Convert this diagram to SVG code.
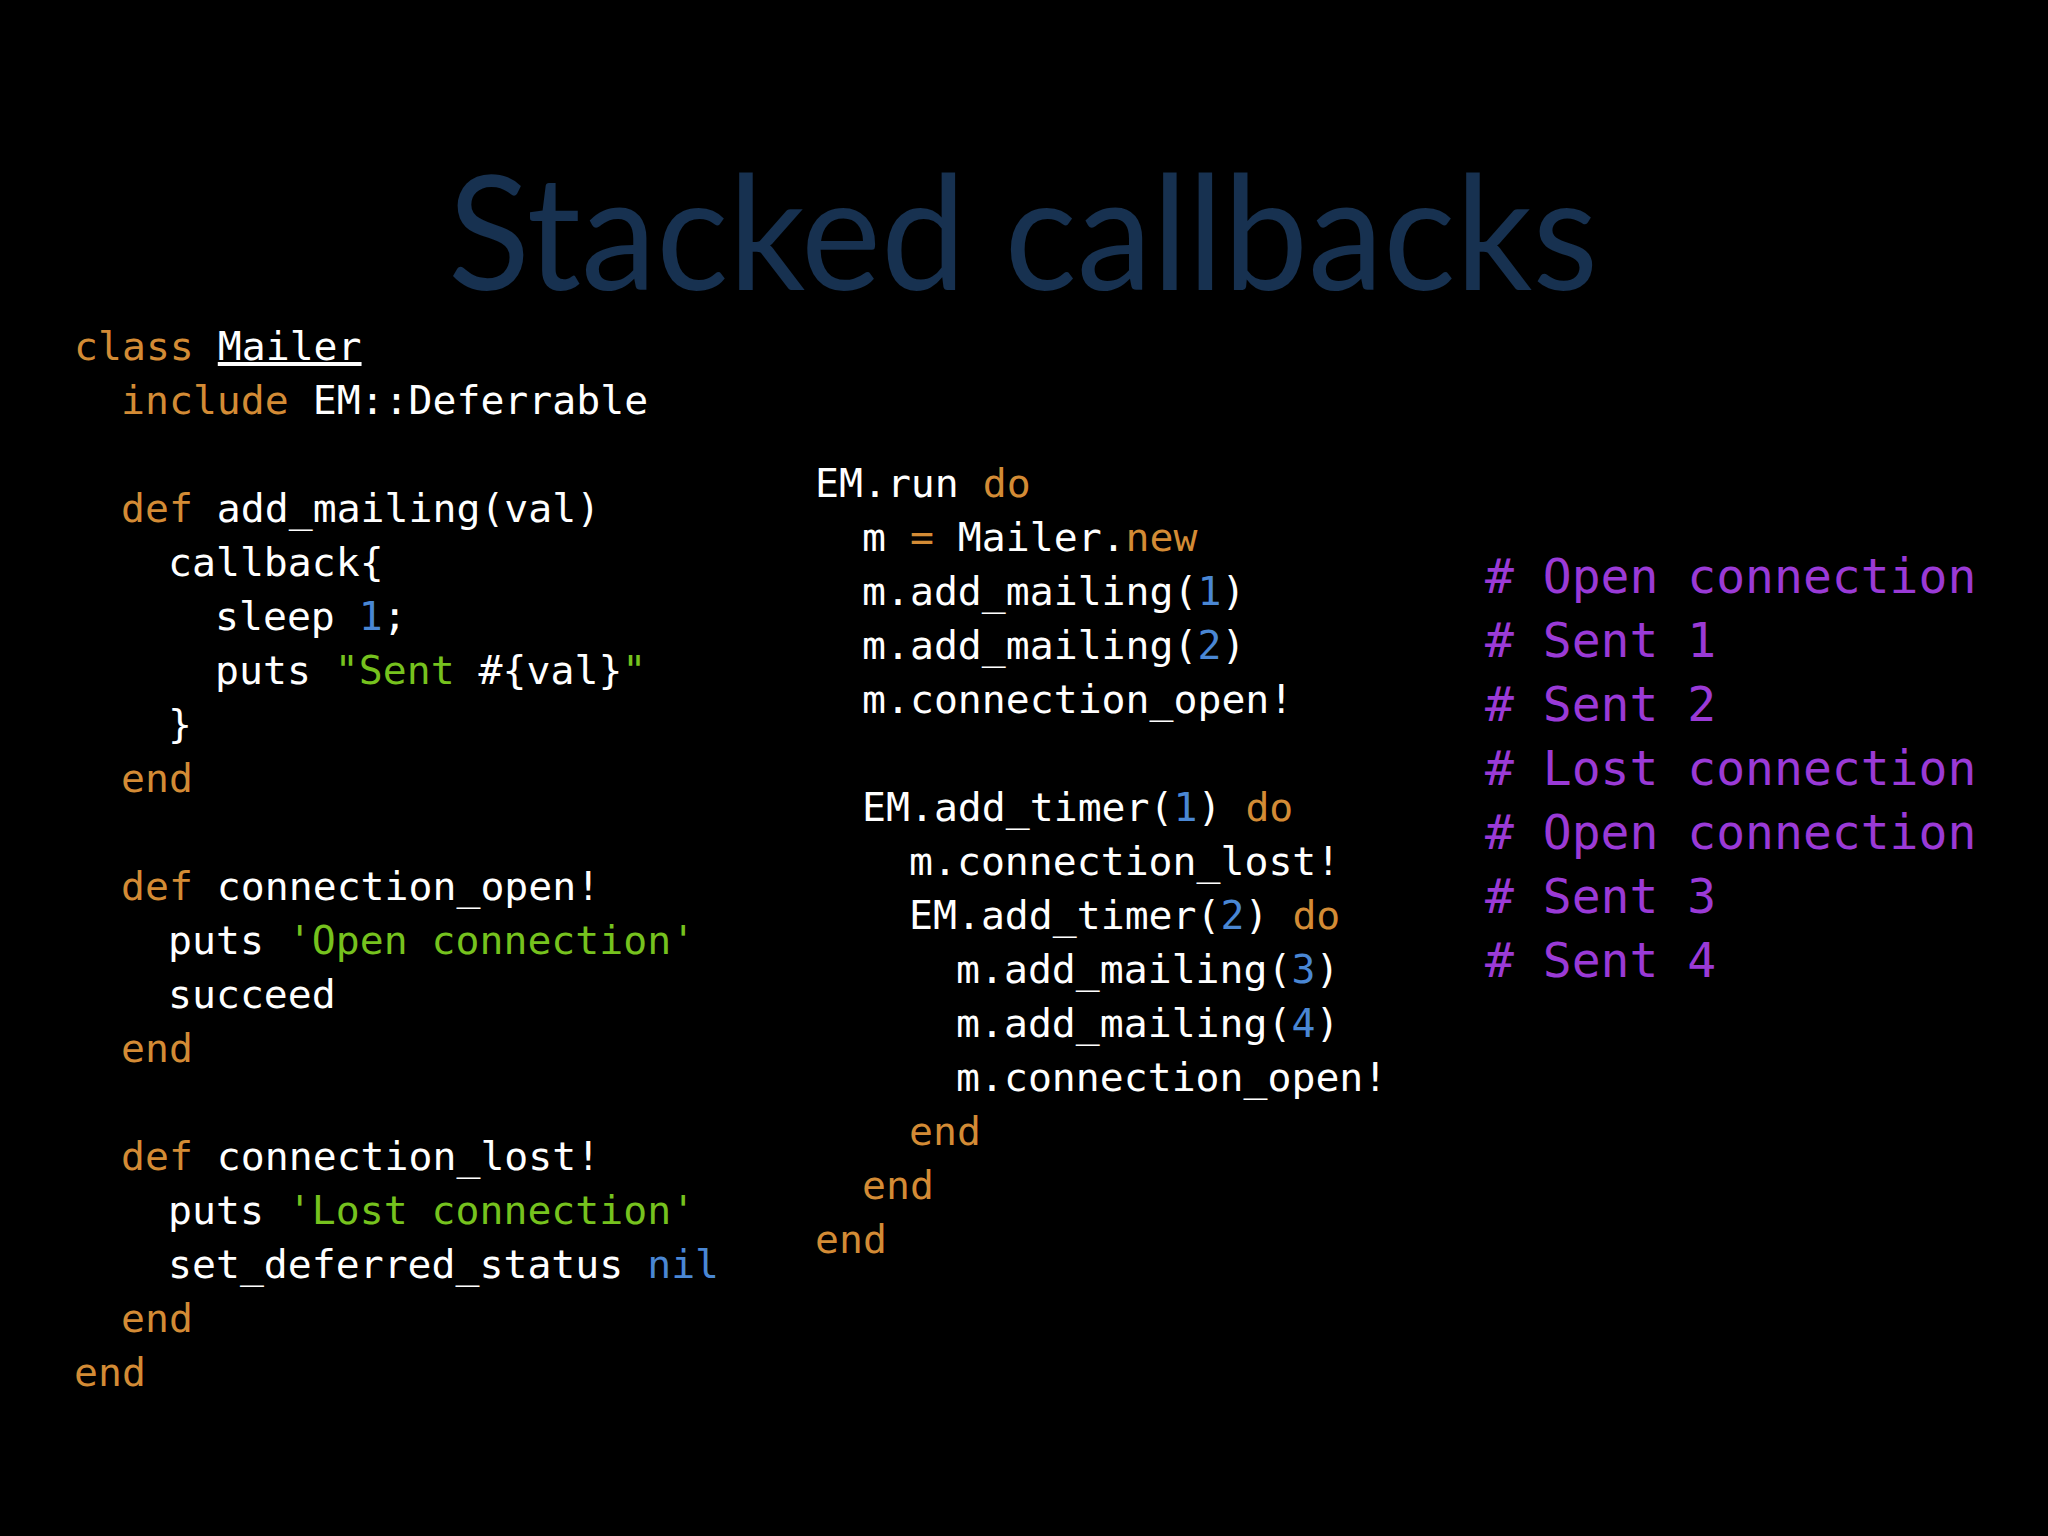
<svg xmlns="http://www.w3.org/2000/svg" width="2048" height="1536" viewBox="0 0 2048 1536">
<style>
.c{font-family:"DejaVu Sans Mono","Liberation Mono",monospace;font-size:39.8px;fill:#ffffff}
.k{fill:#d38b35}.s{fill:#76c21e}.n{fill:#4a87d4}
.o{font-family:"DejaVu Sans Mono","Liberation Mono",monospace;font-size:48px;fill:#9a3ad6}
</style>
<rect width="2048" height="1536" fill="#000"/>
<text x="1023" y="290" text-anchor="middle" font-family="Lato,'Open Sans',sans-serif" font-size="160" fill="#173150" textLength="1150" lengthAdjust="spacingAndGlyphs">Stacked callbacks</text>
<g id="left" class="c">
<text x="74" y="360"><tspan class="k">class</tspan> <tspan text-decoration="underline">Mailer</tspan></text>
<text x="121" y="414"><tspan class="k">include</tspan> EM::Deferrable</text>
<text x="121" y="522"><tspan class="k">def</tspan> add_mailing(val)</text>
<text x="168" y="576">callback{</text>
<text x="215" y="630">sleep <tspan class="n">1</tspan>;</text>
<text x="215" y="684">puts <tspan class="s">"Sent </tspan>#{val}<tspan class="s">"</tspan></text>
<text x="168" y="738">}</text>
<text x="121" y="792" class="k">end</text>
<text x="121" y="900"><tspan class="k">def</tspan> connection_open!</text>
<text x="168" y="954">puts <tspan class="s">'Open connection'</tspan></text>
<text x="168" y="1008">succeed</text>
<text x="121" y="1062" class="k">end</text>
<text x="121" y="1170"><tspan class="k">def</tspan> connection_lost!</text>
<text x="168" y="1224">puts <tspan class="s">'Lost connection'</tspan></text>
<text x="168" y="1278">set_deferred_status <tspan class="n">nil</tspan></text>
<text x="121" y="1332" class="k">end</text>
<text x="74" y="1386" class="k">end</text>
</g>
<g id="middle" class="c">
<text x="815" y="497">EM.run <tspan class="k">do</tspan></text>
<text x="862" y="551">m <tspan class="k">=</tspan> Mailer.<tspan class="k">new</tspan></text>
<text x="862" y="605">m.add_mailing(<tspan class="n">1</tspan>)</text>
<text x="862" y="659">m.add_mailing(<tspan class="n">2</tspan>)</text>
<text x="862" y="713">m.connection_open!</text>
<text x="862" y="821">EM.add_timer(<tspan class="n">1</tspan>) <tspan class="k">do</tspan></text>
<text x="909" y="875">m.connection_lost!</text>
<text x="909" y="929">EM.add_timer(<tspan class="n">2</tspan>) <tspan class="k">do</tspan></text>
<text x="956" y="983">m.add_mailing(<tspan class="n">3</tspan>)</text>
<text x="956" y="1037">m.add_mailing(<tspan class="n">4</tspan>)</text>
<text x="956" y="1091">m.connection_open!</text>
<text x="909" y="1145" class="k">end</text>
<text x="862" y="1199" class="k">end</text>
<text x="815" y="1253" class="k">end</text>
</g>
<g id="output" class="o">
<text x="1485" y="593"># Open connection</text>
<text x="1485" y="657"># Sent 1</text>
<text x="1485" y="721"># Sent 2</text>
<text x="1485" y="785"># Lost connection</text>
<text x="1485" y="849"># Open connection</text>
<text x="1485" y="913"># Sent 3</text>
<text x="1485" y="977"># Sent 4</text>
</g>
</svg>
